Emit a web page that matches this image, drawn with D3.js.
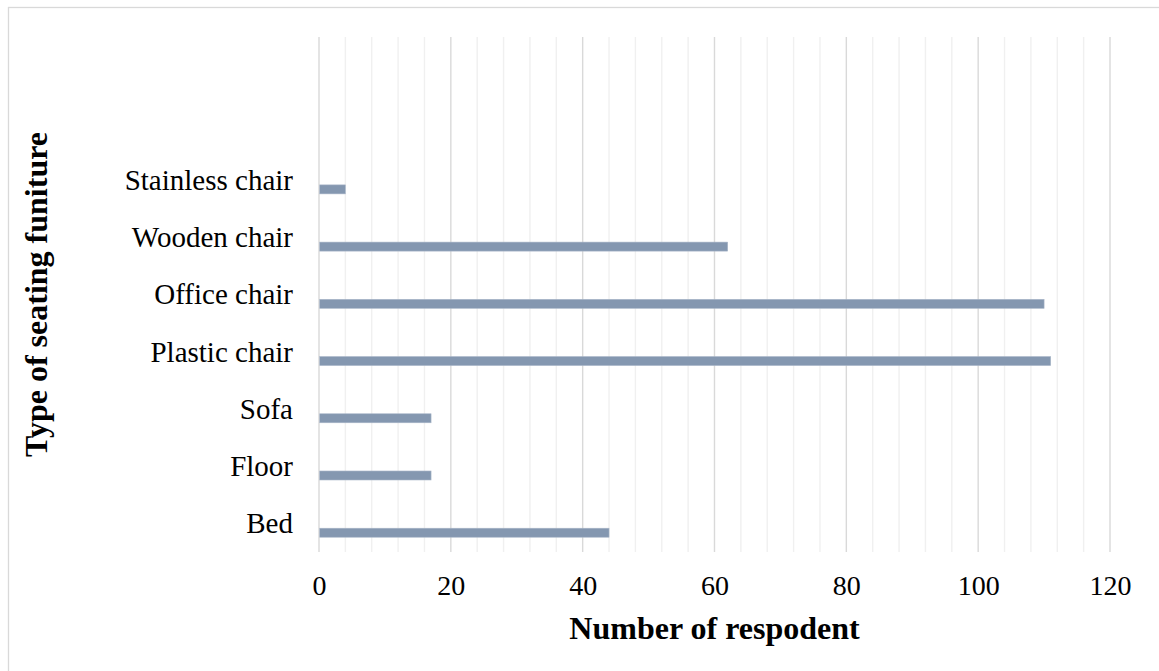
<!DOCTYPE html>
<html>
<head>
<meta charset="utf-8">
<script src="https://cdn.jsdelivr.net/npm/d3@7"></script>
<style>
  html, body { margin: 0; padding: 0; background: #fff; }
  svg { display: block; font-family: "Liberation Serif", "Times New Roman", serif; }
</style>
</head>
<body>
<svg id="chart" width="1159" height="671"></svg>
<script>
// Data (bottom to top, as drawn)
const categories = ["Bed", "Floor", "Sofa", "Plastic chair", "Office chair", "Wooden chair", "Stainless chair"];
const values = [44, 17, 17, 111, 110, 62, 4];
const xTicks = [0, 20, 40, 60, 80, 100, 120];
const xTitle = "Number of respodent";
const yTitle = "Type of seating funiture";

const svg = d3.select("#chart");
const W = 1159, H = 671;
const plot = { left: 319, right: 1110, top: 37, bottom: 552 };

// outer chart border
svg.append("rect")
  .attr("x", 8.5).attr("y", 7.5)
  .attr("width", W + 10).attr("height", H + 10)
  .attr("fill", "#fff").attr("stroke", "#d9d9d9").attr("stroke-width", 1.3);

const x = d3.scaleLinear().domain([0, 120]).range([plot.left, plot.right]);
// 9 category slots: the 7 categories plus two empty slots at the top
const slots = categories.concat(["__empty1", "__empty2"]);
const y = d3.scaleBand().domain(slots).range([plot.bottom, plot.top]).paddingInner(0).paddingOuter(0);
const bw = y.bandwidth();

// minor gridlines
const minor = d3.range(0, 121, 4).filter(v => v % 20 !== 0);
svg.append("g").selectAll("line").data(minor).join("line")
  .attr("x1", d => x(d)).attr("x2", d => x(d))
  .attr("y1", plot.top).attr("y2", plot.bottom)
  .attr("stroke", "#f0f0f0").attr("stroke-width", 1.4);

// major gridlines
svg.append("g").selectAll("line").data(xTicks).join("line")
  .attr("x1", d => x(d)).attr("x2", d => x(d))
  .attr("y1", plot.top).attr("y2", plot.bottom)
  .attr("stroke", "#d9d9d9").attr("stroke-width", 1.4);

// bars
const barH = 9;
svg.append("g").selectAll("rect").data(categories).join("rect")
  .attr("x", x(0) + 0.7)
  .attr("y", (c) => y(c) + bw * 0.663 - barH / 2)
  .attr("width", (c, i) => x(values[i]) - x(0) - 0.7)
  .attr("height", barH)
  .attr("fill", "#8497b0")
  .attr("stroke", "#a9b6c8").attr("stroke-width", 0.6);

// category labels
svg.append("g").selectAll("text").data(categories).join("text")
  .attr("x", 293)
  .attr("y", c => y(c) + bw / 2)
  .attr("dy", "0.34em")
  .attr("text-anchor", "end")
  .attr("font-size", 29)
  .attr("fill", "#000")
  .text(c => c);

// x axis
const xAxis = d3.axisBottom(x).tickValues(xTicks).tickSize(0).tickPadding(23).tickFormat(d3.format("d"));
const gx = svg.append("g").attr("transform", `translate(0,${plot.bottom})`).call(xAxis);
gx.select(".domain").remove();
gx.selectAll("text")
  .attr("font-size", 28)
  .attr("font-family", "Liberation Serif, Times New Roman, serif")
  .attr("fill", "#000");

// axis titles
svg.append("text")
  .attr("x", (plot.left + plot.right) / 2)
  .attr("y", 639)
  .attr("text-anchor", "middle")
  .attr("font-size", 32)
  .attr("font-weight", "bold")
  .attr("fill", "#000")
  .text(xTitle);

svg.append("text")
  .attr("transform", `translate(47,${(plot.top + plot.bottom) / 2}) rotate(-90)`)
  .attr("text-anchor", "middle")
  .attr("font-size", 32)
  .attr("font-weight", "bold")
  .attr("fill", "#000")
  .text(yTitle);
</script>
</body>
</html>
